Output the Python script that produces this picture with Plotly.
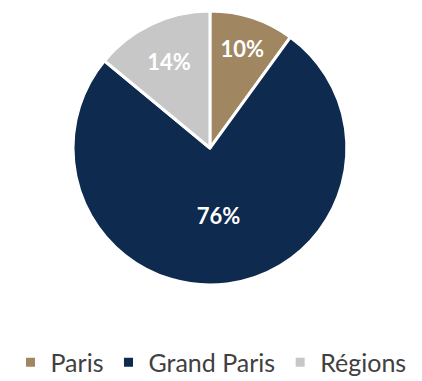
import plotly.graph_objects as go

labels = ["Paris", "Grand Paris", "Régions"]
values = [10, 76, 14]
colors = ["#A08661", "#0E2A4F", "#C7C7C7"]

fig = go.Figure(go.Pie(
    labels=labels,
    values=values,
    sort=False,
    direction="clockwise",
    rotation=0,
    marker=dict(colors=colors, line=dict(color="white", width=3)),
    texttemplate="%{percent:.0%}",
    textposition="inside",
    insidetextorientation="horizontal",
    textfont=dict(family="Lato", size=22, color="white", weight="bold"),
    domain=dict(x=[0.173, 0.822], y=[0.252, 0.971]),
    hoverinfo="skip",
))

fig.update_layout(
    width=422, height=381,
    margin=dict(l=0, r=0, t=0, b=0, autoexpand=False),
    paper_bgcolor="white",
    plot_bgcolor="white",
    showlegend=True,
    legend=dict(
        orientation="h",
        x=0.5, xanchor="center",
        y=-0.012, yanchor="bottom",
        font=dict(family="Lato", size=25, color="#404040"),
        itemwidth=30,
    ),
)

fig.write_html("out.html")
